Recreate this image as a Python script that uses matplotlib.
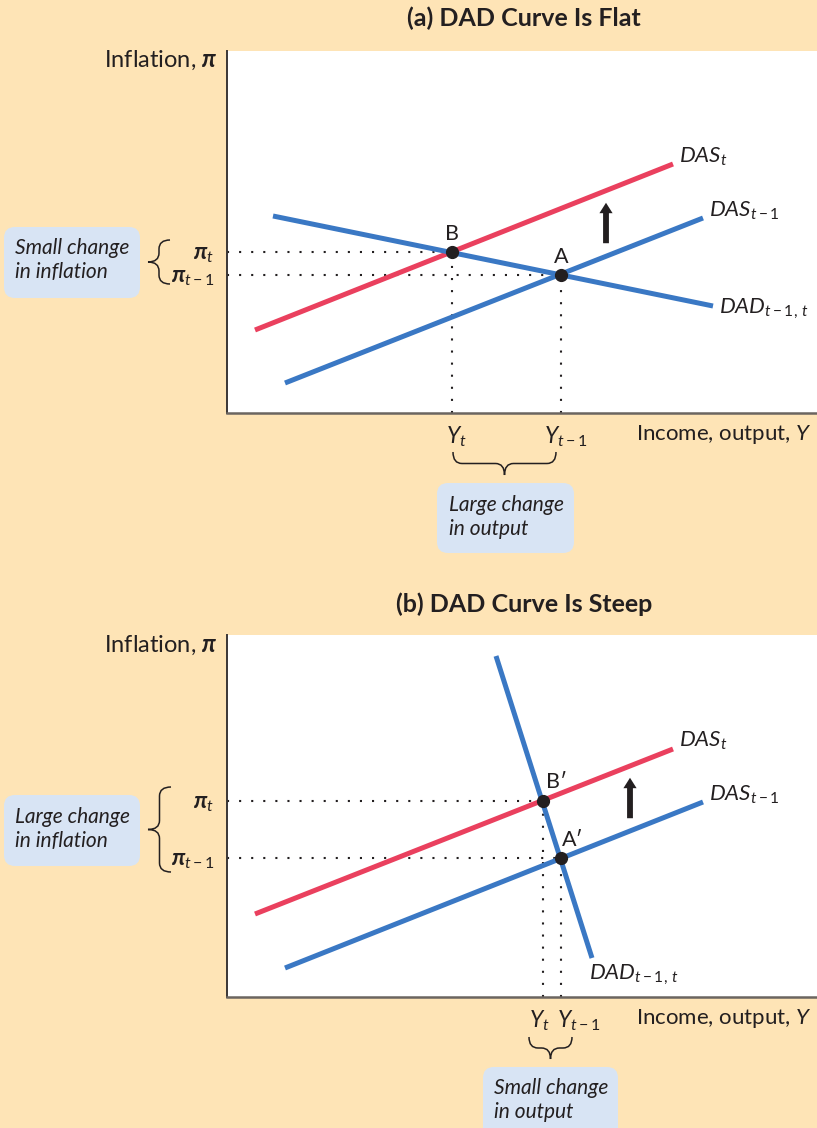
import numpy as np
import matplotlib.pyplot as plt
from matplotlib.patches import FancyBboxPatch, PathPatch, FancyArrowPatch
from matplotlib.path import Path

plt.rcParams['font.family'] = ['Lato', 'DejaVu Sans']
plt.rcParams['mathtext.fontset'] = 'custom'
plt.rcParams['mathtext.rm'] = 'Lato'
plt.rcParams['mathtext.it'] = 'Lato:italic'
plt.rcParams['mathtext.bf'] = 'Lato:bold'
plt.rcParams['mathtext.bfit'] = 'Lato:bold:italic'
plt.rcParams['mathtext.fallback'] = 'stixsans'

W, H = 817, 1128
BG = '#fee4b6'
BOX = '#d8e4f4'
RED = '#ea405e'
BLUE = '#3a78c4'
INK = '#231f20'

# curve endpoints (units: px from the axes origin)
# panel (a): DAD curve is flat
a_das_t_x = [28, 446]
a_das_t_y = [83, 249]
a_das_prev_x = [58, 476]
a_das_prev_y = [30, 195]
a_dad_x = [46, 486]
a_dad_y = [197, 107]
a_pts_x = [225, 334]          # B, A
a_pts_y = [161, 138]
a_pts_labels = ['B', 'A']
a_arrow_x = 379
a_arrow_y = [167, 213]

# panel (b): DAD curve is steep
b_das_t_x = [28, 446]
b_das_t_y = [83, 248]
b_das_prev_x = [58, 476]
b_das_prev_y = [29, 195]
b_dad_x = [269, 365]
b_dad_y = [341, 39]
b_pts_x = [316, 334]          # B', A'
b_pts_y = [196, 139]
b_pts_labels = ['B\u2032', 'A\u2032']
b_arrow_x = 403
b_arrow_y = [176, 222]

pi_labels = [r'$\boldsymbol{\pi}_t$', r'$\boldsymbol{\pi}_{t-1}$']
y_labels = [r'$Y_t$', r'$Y_{t-1}$']
das_t_label = r'$DAS_t$'
das_prev_label = r'$DAS_{t-1}$'
dad_label = r'$DAD_{t-1,\,t}$'

fig = plt.figure(figsize=(W / 100, H / 100), dpi=100)
fig.patch.set_facecolor(BG)


def make_axes(top):
    ax = fig.add_axes([227 / W, (H - top - 362) / H, 590 / W, 362 / H])
    ax.set_xlim(0, 590)
    ax.set_ylim(0, 362)
    ax.set_facecolor('white')
    for s in ['top', 'right']:
        ax.spines[s].set_visible(False)
    ax.spines['left'].set_color('#3a3636')
    ax.spines['bottom'].set_color('#6b6560')
    ax.spines['left'].set_linewidth(1.4)
    ax.spines['bottom'].set_linewidth(1.8)
    ax.tick_params(length=0, labelsize=16.5, colors=INK)
    ax.tick_params(axis='y', pad=9)
    ax.set_xticks([])
    return ax


def draw_panel(ax, das_t, das_prev, dad, pts, labels, arrow, lab_offs, ylab_offs):
    # dotted guides to the axes
    for x, y in zip(*pts):
        ax.plot([0, x], [y, y], color=INK, lw=1.5, dashes=(1, 4.8), zorder=1)
        ax.plot([x, x], [0, y], color=INK, lw=1.5, dashes=(1, 4.8), zorder=1)
    ax.plot(*das_prev, color=BLUE, lw=3.6, solid_capstyle='butt', zorder=2)
    ax.plot(*das_t, color=RED, lw=3.6, solid_capstyle='butt', zorder=2)
    ax.plot(*dad, color=BLUE, lw=3.6, solid_capstyle='butt', zorder=3)
    ax.plot(*pts, 'o', ms=8.5, color=INK, zorder=5)
    for x, y, lab, (dx, dy, ha) in zip(*pts, labels, lab_offs):
        ax.annotate(lab, (x, y), xytext=(dx, dy), textcoords='offset points',
                    ha=ha, va='center', fontsize=15.5, color=INK)
    ax.add_patch(FancyArrowPatch((arrow[0], arrow[1][0]), (arrow[0], arrow[1][1]),
                                 arrowstyle='simple,head_length=0.75,head_width=0.95,tail_width=0.42',
                                 mutation_scale=10, color=INK, lw=0, zorder=4))
    ax.set_yticks(pts[1], pi_labels)
    # output labels under the axis
    for x, lab, dx in zip(pts[0], y_labels, ylab_offs):
        ax.annotate(lab, (x, 0), xytext=(dx, -17), textcoords='offset points',
                    ha='left', va='center', fontsize=16.5, color=INK,
                    annotation_clip=False)


def curve_label(ax, x, y, text, dx, dy):
    ax.annotate(text, (x, y), xytext=(dx, dy), textcoords='offset points',
                ha='left', va='center', fontsize=16, color=INK)


ax_a = make_axes(51)
draw_panel(ax_a, (a_das_t_x, a_das_t_y), (a_das_prev_x, a_das_prev_y),
           (a_dad_x, a_dad_y), (a_pts_x, a_pts_y), a_pts_labels,
           (a_arrow_x, a_arrow_y), [(0, 13, 'center'), (0, 13, 'center')],
           [-4, -12])
curve_label(ax_a, a_das_t_x[1], a_das_t_y[1], das_t_label, 4, 5)
curve_label(ax_a, a_das_prev_x[1], a_das_prev_y[1], das_prev_label, 4, 5)
curve_label(ax_a, a_dad_x[1], a_dad_y[1], dad_label, 4, -2)

ax_b = make_axes(635)
draw_panel(ax_b, (b_das_t_x, b_das_t_y), (b_das_prev_x, b_das_prev_y),
           (b_dad_x, b_dad_y), (b_pts_x, b_pts_y), b_pts_labels,
           (b_arrow_x, b_arrow_y), [(2, 14, 'left'), (1, 13, 'left')],
           [-10, -3])
curve_label(ax_b, b_das_t_x[1], b_das_t_y[1], das_t_label, 4, 6)
curve_label(ax_b, b_das_prev_x[1], b_das_prev_y[1], das_prev_label, 4, 5)
curve_label(ax_b, b_dad_x[1], b_dad_y[1], dad_label, -2, -12)

# overlay in figure pixels for titles, boxes and braces
ov = fig.add_axes([0, 0, 1, 1], zorder=10)
ov.set_xlim(0, W)
ov.set_ylim(H, 0)
ov.axis('off')
ov.patch.set_alpha(0)


def brace(p0, p1, normal, depth, r=9):
    p0 = np.array(p0, float)
    a = np.array(p1, float) - p0
    L = np.hypot(*a)
    a /= L
    n = np.array(normal, float)
    r = min(r, L / 4)
    d = depth
    uv = [(0, 0), (0, d / 2), (r, d / 2), (L / 2 - r, d / 2), (L / 2, d / 2), (L / 2, d),
          (L / 2, d / 2), (L / 2 + r, d / 2), (L - r, d / 2), (L, d / 2), (L, 0)]
    codes = [Path.MOVETO, Path.CURVE3, Path.CURVE3, Path.LINETO, Path.CURVE3, Path.CURVE3,
             Path.CURVE3, Path.CURVE3, Path.LINETO, Path.CURVE3, Path.CURVE3]
    verts = [p0 + u * a + v * n for u, v in uv]
    ov.add_patch(PathPatch(Path(verts, codes), fc='none', ec=INK, lw=1.1))


def note(x0, y0, x1, y1, text, tx, ty):
    ov.add_patch(FancyBboxPatch((x0, y0), x1 - x0, y1 - y0,
                                boxstyle='round,pad=0,rounding_size=11',
                                fc=BOX, ec='none'))
    ov.text(tx, ty, text, style='italic', fontsize=15, color=INK,
            ha='left', va='center', linespacing=1.25)


# panel (a) decorations
ov.text(524, 18, '(a) DAD Curve Is Flat', ha='center', va='center',
        fontsize=18, fontweight='bold', color=INK)
ov.text(217, 60, r'Inflation, $\boldsymbol{\pi}$', ha='right', va='center',
        fontsize=17, color=INK)
ov.text(636, 434, r'Income, output, $Y$', ha='left', va='center',
        fontsize=16, color=INK)
note(4, 227, 140, 298, 'Small change\nin inflation', 15, 260)
brace((170, 240), (170, 284), (-1, 0), 22)
brace((453, 452), (556, 452), (0, 1), 23)
note(437, 483, 574, 553, 'Large change\nin output', 449, 517)

# panel (b) decorations
ov.text(524, 604, '(b) DAD Curve Is Steep', ha='center', va='center',
        fontsize=18, fontweight='bold', color=INK)
ov.text(217, 645, r'Inflation, $\boldsymbol{\pi}$', ha='right', va='center',
        fontsize=17, color=INK)
ov.text(636, 1019, r'Income, output, $Y$', ha='left', va='center',
        fontsize=16, color=INK)
note(4, 795, 140, 866, 'Large change\nin inflation', 15, 829)
brace((171, 787), (171, 872), (-1, 0), 23)
brace((529, 1037), (572, 1037), (0, 1), 22)
note(483, 1067, 618, 1140, 'Small change\nin output', 494, 1100)

fig.savefig('out.png', dpi=100, facecolor=BG)
